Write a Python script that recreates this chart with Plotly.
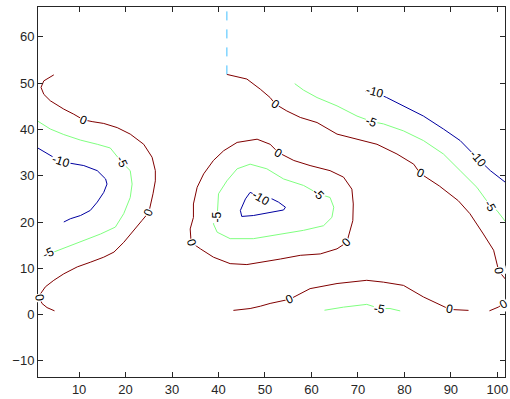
import plotly.graph_objects as go

# ---- data ----
# level 0 contours
z0_left_x = [4.55, 2.4, 1.8, 2.4, 3.8, 6.7, 8.85, 10.9, 12.8, 15.3, 18.2, 21.0, 23.9, 25.7, 26.4, 26.4, 25.9, 25.0, 23.5, 21.8, 19.6, 17.5, 15.3, 12.4, 9.6, 6.7, 4.55, 2.75, 1.7, 1.5, 2.0, 3.1, 4.7]
z0_left_y = [51.8, 50.5, 49.1, 47.6, 46.2, 44.4, 43.3, 42.1, 41.7, 41.3, 40.4, 39.0, 36.8, 34.0, 31.1, 28.9, 26.1, 22.1, 20.3, 18.2, 15.6, 13.5, 12.4, 11.3, 10.3, 8.8, 7.4, 6.0, 4.5, 3.6, 2.4, 1.5, 0.8]

z0_mid_x = [41.1, 44.0, 48.3, 51.1, 52.9, 56.2, 59.7, 64.0, 66.9, 68.7, 69.0, 68.9, 67.6, 65.5, 61.9, 57.6, 53.3, 49.0, 46.1, 42.5, 38.9, 36.1, 34.1, 33.9, 34.6, 34.6, 35.4, 36.8, 38.9, 41.1]
z0_mid_y = [35.4, 37.2, 37.9, 36.8, 35.0, 33.3, 32.2, 31.1, 29.7, 27.1, 23.9, 20.3, 15.6, 14.2, 13.1, 12.8, 12.0, 11.3, 10.8, 11.0, 12.4, 14.2, 15.6, 18.5, 21.0, 23.9, 27.5, 30.4, 33.3, 35.4]

z0_top_x = [41.8, 46.1, 49.0, 51.1, 52.2, 54.7, 57.6, 61.2, 65.5, 69.8, 74.1, 78.4, 82.0, 83.4, 87.5, 91.6, 94.1, 97.0, 99.2, 100.3, 101.7]
z0_top_y = [51.9, 50.9, 48.7, 46.9, 45.5, 44.0, 42.6, 41.5, 39.0, 37.9, 36.8, 34.7, 32.5, 30.5, 27.8, 24.6, 21.8, 17.4, 13.9, 9.4, 7.7]

z0_bot_x = [43.2, 46.8, 49.0, 51.1, 55.3, 59.7, 65.5, 71.9, 75.5, 79.8, 84.1, 87.0, 89.8, 93.8]
z0_bot_y = [0.9, 1.3, 1.8, 2.4, 3.3, 5.6, 6.7, 7.4, 7.0, 6.3, 3.8, 2.4, 1.1, 0.9]

z0_corner_x = [98.3, 100.2, 101.7]
z0_corner_y = [0.8, 1.6, 2.6]

# level -5 contours
m5_left_x = [1.1, 3.8, 6.7, 10.3, 13.9, 16.7, 19.2, 21.0, 21.4, 21.0, 19.6, 17.8, 14.6, 11.0, 8.1, 5.3, 3.4, 2.2]
m5_left_y = [41.8, 40.1, 38.9, 37.7, 36.8, 36.0, 32.9, 31.1, 28.2, 25.3, 21.8, 18.9, 17.4, 16.0, 14.9, 13.9, 13.2, 12.6]

m5_mid_x = [46.8, 44.0, 41.8, 40.0, 39.7, 38.9, 39.7, 42.5, 47.5, 53.3, 58.3, 62.6, 64.4, 64.8, 64.0, 61.5, 58.3, 54.0, 50.4, 46.8]
m5_mid_y = [32.5, 31.5, 28.9, 26.1, 21.0, 19.6, 17.8, 16.4, 16.4, 17.4, 18.2, 19.2, 21.0, 23.2, 25.3, 26.1, 27.9, 29.3, 31.5, 32.5]

m5_top_x = [56.4, 58.3, 61.2, 65.5, 69.8, 73.0, 75.5, 79.8, 84.1, 88.4, 92.0, 95.6, 97.7, 98.5, 99.9, 101.9]
m5_top_y = [49.9, 48.5, 46.9, 45.1, 42.9, 41.7, 41.2, 39.7, 37.6, 34.7, 31.1, 27.5, 24.6, 23.5, 22.5, 19.9]

m5_bot_x = [62.8, 66.9, 71.9, 74.7, 76.9, 79.1]
m5_bot_y = [0.93, 1.6, 2.2, 1.3, 1.3, 0.78]

# level -10 contours
m10_left_x = [1.1, 3.8, 6.0, 8.1, 11.0, 13.9, 15.7, 16.0, 15.3, 13.9, 12.4, 10.3, 8.1, 6.7]
m10_left_y = [36.0, 34.3, 33.1, 32.7, 32.2, 31.1, 29.3, 28.2, 26.4, 24.3, 22.5, 21.4, 20.7, 20.0]

m10_mid_x = [46.8, 45.8, 44.7, 45.0, 47.5, 50.4, 54.0, 54.4, 52.9, 51.1, 49.1, 46.8]
m10_mid_y = [26.4, 25.0, 22.5, 21.2, 21.4, 21.9, 22.6, 23.2, 24.3, 25.2, 25.4, 26.4]

m10_top_x = [71.6, 73.7, 76.2, 79.8, 84.1, 88.4, 92.0, 95.9, 98.5, 101.7]
m10_top_y = [48.2, 48.0, 46.9, 45.1, 42.9, 40.1, 37.6, 33.6, 31.1, 28.6]

# dashed boundary line
edge_x = [41.8, 41.8]
edge_y = [51.9, 66.5]

# contour labels: text, x, y, angle
lab_text = ["0", "-5", "-10", "0", "-5", "0",
            "0", "0", "0", "-5", "-5", "-10",
            "0", "-5", "-10", "0", "-10", "-5", "0",
            "0", "-5", "0", "0"]
lab_x = [10.9, 19.2, 6.0, 25.0, 3.4, 1.5,
         52.9, 67.6, 34.1, 39.7, 61.5, 49.1,
         52.2, 73.0, 73.7, 83.4, 95.9, 98.5, 100.3,
         55.3, 74.7, 89.8, 101.3]
lab_y = [42.1, 32.9, 33.1, 22.1, 13.2, 3.6,
         35.0, 15.6, 15.6, 21.0, 26.1, 25.2,
         45.5, 41.7, 48.1, 30.5, 33.6, 23.5, 9.4,
         3.3, 1.3, 1.1, 2.3]
lab_ang = [22, 65, 18, -65, -25, 80,
           30, -45, 75, -90, 45, 30,
           35, 20, 15, 25, 50, 60, 80,
           -25, 10, 10, -30]

# ---- styles ----
C0 = "rgb(128,0,0)"
C5 = "rgb(128,255,128)"
C10 = "rgb(0,0,160)"
CEDGE = "rgb(64,191,255)"

fig = go.Figure()

def add(xs, ys, color, dash="solid"):
    fig.add_trace(go.Scatter(x=xs, y=ys, mode="lines",
                             line=dict(color=color, width=1, dash=dash),
                             hoverinfo="skip", showlegend=False))

for xs, ys in [(z0_left_x, z0_left_y), (z0_mid_x, z0_mid_y), (z0_top_x, z0_top_y),
               (z0_bot_x, z0_bot_y), (z0_corner_x, z0_corner_y)]:
    add(xs, ys, C0)
for xs, ys in [(m5_left_x, m5_left_y), (m5_mid_x, m5_mid_y), (m5_top_x, m5_top_y),
               (m5_bot_x, m5_bot_y)]:
    add(xs, ys, C5)
for xs, ys in [(m10_left_x, m10_left_y), (m10_mid_x, m10_mid_y), (m10_top_x, m10_top_y)]:
    add(xs, ys, C10)
add(edge_x, edge_y, CEDGE, dash="dash")

for t, x, y, a in zip(lab_text, lab_x, lab_y, lab_ang):
    fig.add_annotation(x=x, y=y, text=t, textangle=a, showarrow=False,
                       font=dict(family="Liberation Sans, Arial", size=12, color="black"),
                       bgcolor="white", borderpad=0)

axis_common = dict(showline=True, linecolor="#262626", linewidth=1, mirror="ticks",
                   ticks="inside", ticklen=5, tickcolor="#262626", showgrid=False,
                   zeroline=False, automargin=False,
                   tickfont=dict(family="Liberation Sans, Arial", size=13, color="#262626"))

fig.update_layout(
    width=510, height=399,
    margin=dict(l=37.5, r=5, t=6.7, b=22),
    paper_bgcolor="white", plot_bgcolor="white",
    xaxis=dict(range=[1.15, 101.65], tickvals=[10, 20, 30, 40, 50, 60, 70, 80, 90, 100], **axis_common),
    yaxis=dict(range=[-13.5, 66.47], tickvals=[-10, 0, 10, 20, 30, 40, 50, 60], **axis_common),
)

# remove the page's default body margin so the 510x399 figure fills the window
fig.write_html("out.html",
               config={"displayModeBar": False},
               post_script="document.body.style.margin='0';document.body.style.overflow='hidden';")
